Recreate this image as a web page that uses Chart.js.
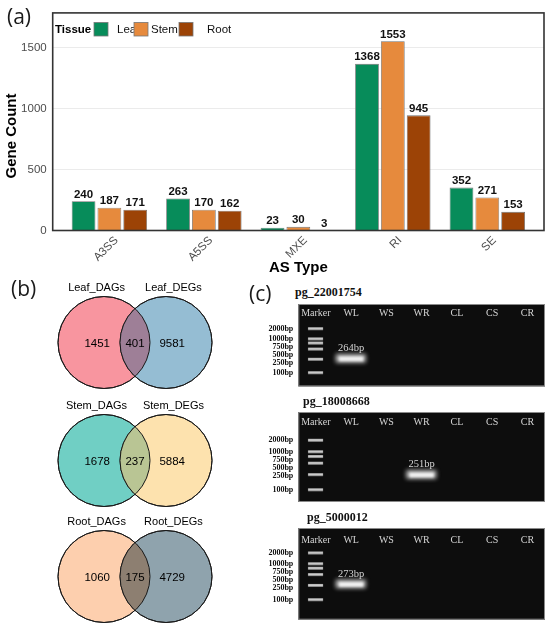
<!DOCTYPE html>
<html>
<head>
<meta charset="utf-8">
<script src="https://cdn.jsdelivr.net/npm/chart.js@4.4.0/dist/chart.umd.min.js"></script>
<style>
  html, body { margin: 0; padding: 0; background: #fff; }
  #page { position: relative; width: 550px; height: 628px; overflow: hidden; }
  canvas { position: absolute; }
  .pnl { position: absolute; font: 400 21px/20px "Open Sans", "Noto Sans", sans-serif; color: #1a1a1a; }
  .gtitle { position: absolute; font: bold 12px/12px "Liberation Serif", "Times New Roman", serif; color: #111; white-space: nowrap; }
</style>
</head>
<body>
<div id="page">
  <canvas id="barChart" width="550" height="280" style="left:0;top:0"></canvas>
  <div class="pnl" style="left:7px;top:6px">(a)</div>
  <div class="pnl" style="left:11px;top:278px">(b)</div>
  <div class="pnl" style="left:249px;top:283px">(c)</div>
</div>
<script>
// panel (a): AS events per tissue
var asTypes = ['A3SS', 'A5SS', 'MXE', 'RI', 'SE'];
var tissues = ['Lea', 'Stem', 'Root'];
var leafCounts = [240, 263, 23, 1368, 352];
var stemCounts = [187, 170, 30, 1553, 271];
var rootCounts = [171, 162, 3, 945, 153];
var countTicks = [0, 500, 1000, 1500];

// panel (b): DAG / DEG overlaps
var vennTissues = ['Leaf', 'Stem', 'Root'];
var dagOnly = [1451, 1678, 1060];
var shared = [401, 237, 175];
var degOnly = [9581, 5884, 4729];

// panel (c): RT-PCR gels
var lanes = ['Marker', 'WL', 'WS', 'WR', 'CL', 'CS', 'CR'];
var ladderBp = [2000, 1000, 750, 500, 250, 100];
var gelGenes = ['pg_22001754', 'pg_18008668', 'pg_5000012'];
var gelLane = ['WL', 'WR', 'WL'];
var gelBp = [264, 251, 273];

Chart.defaults.font.family = '"Liberation Sans", Arial, sans-serif';
var page = document.getElementById('page');

// ---------- (a) bar chart ----------
var barColors = ['#078c5a', '#e68a3d', '#9c4306'];
var barSeries = [leafCounts, stemCounts, rootCounts];

var barExtras = {
    id: 'barExtras',
    afterDatasetsDraw: function (chart) {
        var ctx = chart.ctx;
        ctx.save();
        ctx.font = 'bold 11.5px "Liberation Sans", Arial, sans-serif';
        ctx.fillStyle = '#111';
        ctx.textAlign = 'center';
        ctx.textBaseline = 'bottom';
        barSeries.forEach(function (vals, k) {
            chart.getDatasetMeta(k).data.forEach(function (bar, i) {
                ctx.fillText(vals[i], bar.x, bar.y - 1);
            });
        });
        ctx.restore();
    },
    afterDraw: function (chart) {
        var a = chart.chartArea, ctx = chart.ctx;
        var xs = chart.scales.x;
        ctx.save();
        ctx.strokeStyle = '#333';
        ctx.lineWidth = 1.6;
        ctx.strokeRect(a.left, a.top, a.right - a.left, a.bottom - a.top);

        // category labels at 45 degrees, top-right corner on the tick
        ctx.fillStyle = '#4d4d4d';
        ctx.font = '11.5px "Liberation Sans", Arial, sans-serif';
        ctx.textAlign = 'right';
        ctx.textBaseline = 'top';
        asTypes.forEach(function (c, i) {
            ctx.save();
            ctx.translate(xs.getPixelForValue(i) + 3, a.bottom + 4);
            ctx.rotate(-Math.PI / 4);
            ctx.fillText(c, 0, 0);
            ctx.restore();
        });

        ctx.fillStyle = '#000';
        ctx.font = 'bold 15px "Liberation Sans", Arial, sans-serif';
        ctx.textAlign = 'center';
        ctx.textBaseline = 'middle';
        ctx.fillText('AS Type', (a.left + a.right) / 2, 268);
        ctx.save();
        ctx.translate(12, 136);
        ctx.rotate(-Math.PI / 2);
        ctx.fillText('Gene Count', 0, 0);
        ctx.restore();

        // legend sits inside the panel, top left
        ctx.textAlign = 'left';
        ctx.font = 'bold 11.5px "Liberation Sans", Arial, sans-serif';
        ctx.fillText('Tissue', 55, 30);
        var boxX = [94, 134, 179], textX = [117, 151, 207];
        ctx.font = '11.5px "Liberation Sans", Arial, sans-serif';
        tissues.forEach(function (t, k) {
            ctx.fillStyle = '#111';
            ctx.fillText(t, textX[k], 30);
        });
        tissues.forEach(function (t, k) {
            ctx.fillStyle = barColors[k];
            ctx.fillRect(boxX[k], 22.5, 14, 13.5);
            ctx.strokeStyle = '#777';
            ctx.lineWidth = 0.8;
            ctx.strokeRect(boxX[k], 22.5, 14, 13.5);
        });
        ctx.restore();
    }
};

new Chart(document.getElementById('barChart'), {
    type: 'bar',
    data: {
        datasets: tissues.map(function (t, k) {
            return {
                label: t,
                data: barSeries[k].map(function (v, i) { return { x: i, y: v }; }),
                backgroundColor: barColors[k],
                borderColor: '#707070',
                borderWidth: 0.8,
                categoryPercentage: 0.82,
                barPercentage: 0.92
            };
        })
    },
    options: {
        responsive: false,
        animation: false,
        events: [],
        layout: { padding: { top: 8, right: 6, left: 0, bottom: 0 } },
        plugins: { legend: { display: false }, tooltip: { enabled: false } },
        scales: {
            x: {
                type: 'linear', min: -0.6, max: 4.6, offset: false,
                afterBuildTicks: function (s) { s.ticks = asTypes.map(function (c, i) { return { value: i }; }); },
                afterFit: function (s) { s.height = 49.5; },
                grid: { display: false },
                border: { display: false },
                ticks: { display: false }
            },
            y: {
                min: 0, max: 1786,
                afterBuildTicks: function (s) { s.ticks = countTicks.map(function (v) { return { value: v }; }); },
                afterFit: function (s) { s.width = 52.7; },
                ticks: {
                    callback: function (v) { return String(v); },
                    color: '#4d4d4d', font: { size: 11.5 }, padding: 6
                },
                grid: {
                    color: function (c) { return c.tick.value === 0 ? 'rgba(0,0,0,0)' : '#ebebeb'; },
                    drawTicks: false, lineWidth: 1
                },
                border: { display: false }
            }
        }
    },
    plugins: [barExtras]
});

// ---------- (b) venn diagrams ----------
var vennFill = [
    ['#f8959f', '#95bdd3', '#9e7f97'],
    ['#70cfc4', '#fde2ae', '#b9c594'],
    ['#fdcfae', '#8fa3ad', '#8d7f71']
];
var vennTop = [281, 399, 515];

function vennPlugin(k) {
    return {
        id: 'venn' + k,
        afterDatasetsDraw: function (chart) {
            var ctx = chart.ctx;
            var pts = chart.getDatasetMeta(0).data;
            var A = pts[0], B = pts[1], r = A.options.radius;
            var xs = chart.scales.x;
            ctx.save();
            ctx.beginPath();
            ctx.arc(A.x, A.y, r, 0, Math.PI * 2);
            ctx.clip();
            ctx.beginPath();
            ctx.arc(B.x, B.y, r, 0, Math.PI * 2);
            ctx.fillStyle = vennFill[k][2];
            ctx.fill();
            ctx.restore();

            ctx.save();
            ctx.strokeStyle = '#1a1a1a';
            ctx.lineWidth = 1;
            [A, B].forEach(function (p) {
                ctx.beginPath();
                ctx.arc(p.x, p.y, r, 0, Math.PI * 2);
                ctx.stroke();
            });
            ctx.fillStyle = '#000';
            ctx.textAlign = 'center';
            ctx.textBaseline = 'middle';
            ctx.font = '11.5px "Liberation Sans", Arial, sans-serif';
            var nums = [dagOnly[k], shared[k], degOnly[k]];
            [-1.22, 0, 1.2].forEach(function (v, j) {
                ctx.fillText(nums[j], xs.getPixelForValue(v), A.y + 1);
            });
            ctx.font = '11px "Liberation Sans", Arial, sans-serif';
            ctx.fillText(vennTissues[k] + '_DAGs', xs.getPixelForValue(-1.24), A.y - 55);
            ctx.fillText(vennTissues[k] + '_DEGs', xs.getPixelForValue(1.24), A.y - 55);
            ctx.restore();
        }
    };
}

vennTissues.forEach(function (t, k) {
    var cv = document.createElement('canvas');
    cv.width = 220;
    cv.height = 118;
    cv.style.left = '25px';
    cv.style.top = vennTop[k] + 'px';
    page.appendChild(cv);
    new Chart(cv, {
        type: 'scatter',
        data: {
            datasets: [{
                data: [{ x: -1, y: 0 }, { x: 1, y: 0 }],
                pointRadius: 46,
                pointBackgroundColor: [vennFill[k][0], vennFill[k][1]],
                pointBorderColor: '#1a1a1a',
                pointBorderWidth: 1,
                clip: false
            }]
        },
        options: {
            responsive: false, animation: false, events: [],
            layout: { padding: 0, autoPadding: false },
            plugins: { legend: { display: false }, tooltip: { enabled: false } },
            scales: {
                x: { display: false, min: -110 / 31, max: 110 / 31 },
                y: { display: false, min: -(118 - 61.5) / 31, max: 61.5 / 31 }
            }
        },
        plugins: [vennPlugin(k)]
    });
});

// ---------- (c) gels ----------
function sprite(w, h, blur, color) {
    var c = document.createElement('canvas');
    c.width = Math.ceil(w + blur * 6);
    c.height = Math.ceil(h + blur * 6);
    var x = c.getContext('2d');
    x.filter = 'blur(' + blur + 'px)';
    x.fillStyle = color;
    x.fillRect(blur * 3, blur * 3, w, h);
    return c;
}
var ladderSprite = sprite(15, 2.6, 0.7, 'rgba(228,228,228,0.9)');
var bandSprite = (function () {
    var c = sprite(30, 8.5, 2.2, 'rgba(220,220,220,0.9)');
    var x = c.getContext('2d');
    x.filter = 'blur(1.2px)';
    x.fillStyle = 'rgba(255,255,255,0.85)';
    x.fillRect(10, 9.5, 24, 4);
    return c;
})();

var gelBox = [
    { top: 304.3, height: 82.4, ymin: 39.4, ymax: 10760, titleX: 295, titleY: 286, laneY: 9.5 },
    { top: 411.7, height: 90, ymin: 47.8, ymax: 11090, titleX: 303, titleY: 395, laneY: 10.5 },
    { top: 528.3, height: 91.7, ymin: 27.7, ymax: 9940, titleX: 307, titleY: 511, laneY: 12 }
];

function gelPlugin(g) {
    return {
        id: 'gel' + g,
        beforeDatasetsDraw: function (chart) {
            var a = chart.chartArea, ctx = chart.ctx;
            ctx.save();
            ctx.fillStyle = '#0d0d0d';
            ctx.fillRect(a.left, a.top, a.right - a.left, a.bottom - a.top);
            ctx.strokeStyle = '#8a8a8a';
            ctx.lineWidth = 1;
            ctx.strokeRect(a.left + 0.5, a.top + 0.5, a.right - a.left - 1, a.bottom - a.top - 1);
            ctx.restore();
        },
        afterDatasetsDraw: function (chart) {
            var a = chart.chartArea, ctx = chart.ctx;
            var xs = chart.scales.x, ys = chart.scales.y;
            ctx.save();
            ctx.fillStyle = '#d4d4d4';
            ctx.textAlign = 'center';
            ctx.textBaseline = 'middle';
            ctx.font = '10px "Liberation Serif", "Times New Roman", serif';
            lanes.forEach(function (l, i) {
                ctx.fillText(l, xs.getPixelForValue(i), a.top + gelBox[g].laneY);
            });
            ctx.font = '10.5px "Liberation Serif", "Times New Roman", serif';
            ctx.fillText(gelBp[g] + 'bp', xs.getPixelForValue(lanes.indexOf(gelLane[g])), ys.getPixelForValue(gelBp[g]) - 10);

            // ladder sizes beside the gel, nudged apart so they do not collide
            var ly = ladderBp.map(function (bp) { return ys.getPixelForValue(bp); });
            for (var i = 1; i < ly.length; i++) ly[i] = Math.max(ly[i], ly[i - 1] + 8);
            ctx.fillStyle = '#111';
            ctx.textAlign = 'right';
            ctx.font = 'bold 8px "Liberation Serif", "Times New Roman", serif';
            ladderBp.forEach(function (bp, i) {
                ctx.fillText(bp + 'bp', a.left - 5, ly[i]);
            });
            ctx.restore();
        }
    };
}

gelGenes.forEach(function (gene, g) {
    var box = gelBox[g];
    var title = document.createElement('div');
    title.className = 'gtitle';
    title.style.left = box.titleX + 'px';
    title.style.top = box.titleY + 'px';
    title.textContent = gene;
    page.appendChild(title);

    var cv = document.createElement('canvas');
    cv.width = 300;
    cv.height = Math.round(box.height + 4);
    cv.style.left = '250px';
    cv.style.top = (box.top - 2) + 'px';
    page.appendChild(cv);
    new Chart(cv, {
        type: 'scatter',
        data: {
            datasets: [
                {
                    data: ladderBp.map(function (bp) { return { x: 0, y: bp }; }),
                    pointStyle: ladderSprite, pointRadius: 0.5, pointBorderWidth: 0
                },
                {
                    data: [{ x: lanes.indexOf(gelLane[g]), y: gelBp[g] }],
                    pointStyle: bandSprite, pointRadius: 0.5, pointBorderWidth: 0
                }
            ]
        },
        options: {
            responsive: false, animation: false, events: [],
            layout: { padding: { top: 2, bottom: cv.height - box.height - 2, right: 5, left: 0 }, autoPadding: false },
            plugins: { legend: { display: false }, tooltip: { enabled: false } },
            scales: {
                x: { type: 'linear', display: false, min: -0.5, max: 6.5 },
                y: {
                    type: 'logarithmic', min: box.ymin, max: box.ymax,
                    afterFit: function (s) { s.width = 48.3; },
                    grid: { display: false },
                    border: { display: false },
                    ticks: { display: false }
                }
            }
        },
        plugins: [gelPlugin(g)]
    });
});
</script>
</body>
</html>
